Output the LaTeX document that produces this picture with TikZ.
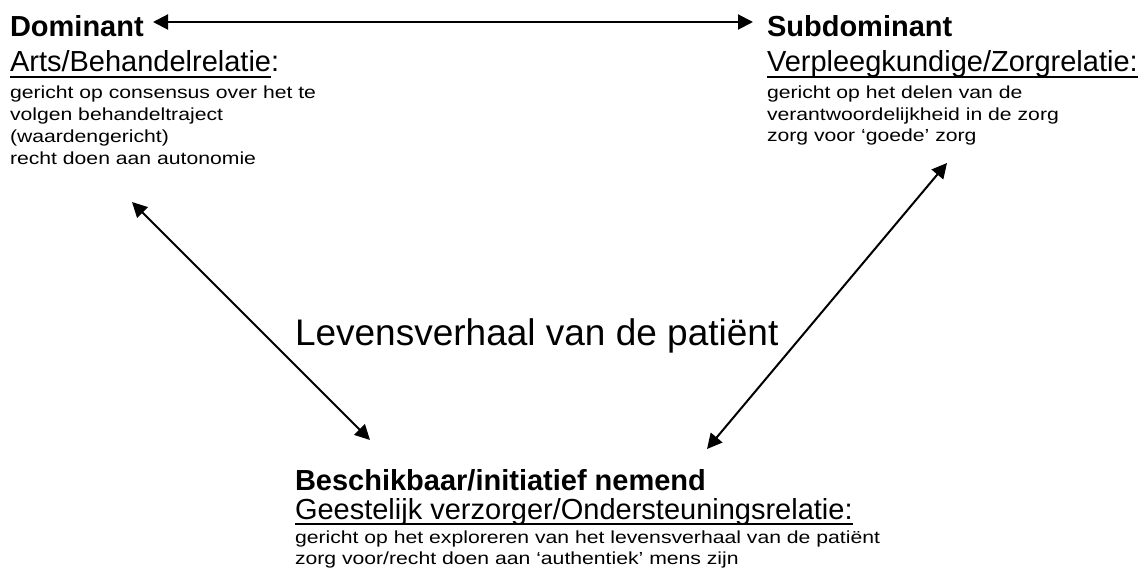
\documentclass[tikz,border=0pt]{standalone}
\usepackage{fontspec}
\setmainfont{Liberation Sans}
\newfontfamily\widefont[FakeStretch=1.21]{Liberation Sans}
\usetikzlibrary{arrows.meta}
\begin{document}
\begin{tikzpicture}[x=1pt,y=-1pt,
  txt/.style={anchor=base west,inner sep=0pt,outer sep=0pt},
  head/.style={txt,font=\fontsize{29}{34}\selectfont\bfseries},
  sub/.style={txt,font=\fontsize{29}{34}\selectfont},
  small/.style={txt,font=\widefont\fontsize{17.5}{21}\selectfont},
  big/.style={txt,font=\fontsize{37}{44}\selectfont},
  uline/.style={line width=2pt},
  conn/.style={line width=2pt,{Triangle[length=15pt,width=15pt]}-{Triangle[length=15pt,width=15pt]}}]
\useasboundingbox (0,0) rectangle (1144,569);
% left block
\node[head] (dom) at (10,37) {Dominant};
\node[sub] (arts) at (10,72) {Arts/Behandelrelatie};
\node[sub,anchor=base west] (artsc) at (arts.base east) {:};
\draw[uline] ([yshift=-5pt]arts.base west) -- ([yshift=-5pt]arts.base east);
\node[small] (l1) at (10,99) {gericht op consensus over het te};
\node[small] (l2) at (10,121) {volgen behandeltraject};
\node[small] (l3) at (10,143) {(waardengericht)};
\node[small] (l4) at (10,165) {recht doen aan autonomie};
% right block
\node[head] (subd) at (767,37) {Subdominant};
\node[sub] (verp) at (767,72) {Verpleegkundige/Zorgrelatie:};
\draw[uline] ([yshift=-5pt]verp.base west) -- ([yshift=-5pt]verp.base east);
\node[small] (r1) at (767,99) {gericht op het delen van de};
\node[small] (r2) at (767,121) {verantwoordelijkheid in de zorg};
\node[small] (r3) at (767,142) {zorg voor ‘goede’ zorg};
% bottom block
\node[head] (besch) at (295,490) {Beschikbaar/initiatief nemend};
\node[sub] (geest) at (295,519) {Geestelijk verzorger/Ondersteuningsrelatie:};
\draw[uline] ([yshift=-5pt]geest.base west) -- ([yshift=-5pt]geest.base east);
\node[small] (b1) at (295,543) {gericht op het exploreren van het levensverhaal van de patiënt};
\node[small] (b2) at (295,564) {zorg voor/recht doen aan ‘authentiek’ mens zijn};
% centre
\node[big] (lev) at (295,346) {Levensverhaal van de patiënt};
% connector ends
\coordinate (tl) at (153,22);
\coordinate (tr) at (753,22);
\coordinate (dl) at (132,202);
\coordinate (bl) at (370,440);
\coordinate (dr) at (947,163);
\coordinate (br) at (707,449);
\draw[conn] (tl) -- (tr);
\draw[conn] (dl) -- (bl);
\draw[conn] (dr) -- (br);
\end{tikzpicture}
\end{document}
